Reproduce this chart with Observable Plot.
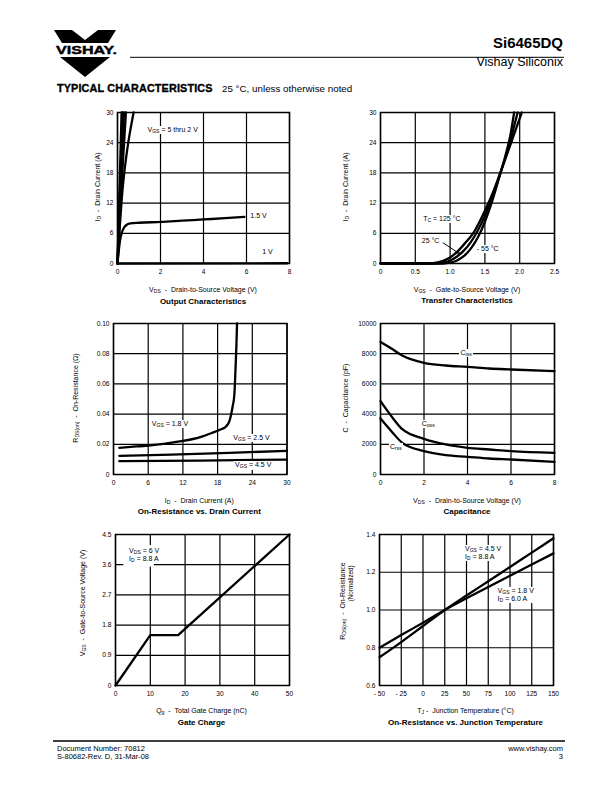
<!DOCTYPE html>
<html><head><meta charset="utf-8">
<script src="https://cdn.jsdelivr.net/npm/d3@7"></script>
<script src="https://cdn.jsdelivr.net/npm/@observablehq/plot@0.6"></script>
<style>
body{margin:0;background:#fff;}
#page{position:relative;width:612px;height:792px;overflow:hidden;font-family:"Liberation Sans",Arial,Helvetica,sans-serif;color:#000;background:#fff;}
.abs{position:absolute;white-space:nowrap;}
.ctr{transform:translate(-50%,-50%);}
.rot{transform:translate(-50%,-50%) rotate(-90deg);}
.lbl{font-size:7px;}
.ttl{font-size:8px;font-weight:bold;}
.note{position:absolute;white-space:nowrap;transform:translate(-1px,-50%);background:#fff;padding:0 1px;font-size:7px;line-height:1.15;}
sub{font-size:72%;vertical-align:-0.3em;line-height:0;}
</style></head><body><div id="page"></div>
<script>
// ================= DATA =================
// Panel 1: Output Characteristics (VDS in V, ID in A)
const outVgs5 = [[0,0],[0.19,30]];
const outVgs4 = [[0,0],[0.24,30]];
const outVgs3 = [[0,0],[0.30,30]];
const outVgs25 = [[0,0],[0.1,8.5],[0.2,16.5],[0.3,23.5],[0.39,30]];
const outVgs2 = [[0,0],[0.1,7],[0.2,13],[0.3,17.5],[0.4,21],[0.5,24],[0.6,26.6],[0.7,28.9],[0.75,30]];
const outVgs15 = [[0,0],[0.05,2.2],[0.12,4.6],[0.2,6.1],[0.3,7.1],[0.4,7.6],[0.6,7.95],[1,8.1],[2,8.25],[3,8.5],[4,8.75],[5,9.0],[5.9,9.25]];
const outVgs1 = [[0,0],[7.9,0.05]];
const outXTicks = [0,2,4,6,8];
const outYTicks = [0,6,12,18,24,30];
const outXLabels = ["0","2","4","6","8"];
const outYLabels = ["0","6","12","18","24","30"];

// Panel 2: Transfer Characteristics (VGS in V, ID in A)
const trTc125 = [[0,0],[0.72,0],[0.8,0.15],[0.9,0.55],[1.0,1.2],[1.1,2.3],[1.2,3.8],[1.34,6.2],[1.49,10.2],[1.63,14.6],[1.72,18],[1.82,21.8],[1.92,25.7],[2.03,30]];
const trTc25 = [[0,0],[0.8,0],[0.9,0.2],[1.0,0.6],[1.1,1.4],[1.2,2.6],[1.3,4.3],[1.4,6.6],[1.5,9.5],[1.6,13.0],[1.72,17.8],[1.82,22.2],[1.9,26.2],[1.97,30]];
const trTcM55 = [[0,0],[0.9,0],[1.0,0.15],[1.1,0.6],[1.2,1.5],[1.3,3.0],[1.4,5.2],[1.5,8.3],[1.6,12.2],[1.72,17.8],[1.8,21.7],[1.87,25.8],[1.92,30]];
const trXTicks = [0,0.5,1.0,1.5,2.0,2.5];
const trYTicks = [0,6,12,18,24,30];
const trXLabels = ["0","0.5","1.0","1.5","2.0","2.5"];
const trYLabels = ["0","6","12","18","24","30"];
const trArrow = [{x1:0.9,y1:4.1,x2:1.14,y2:1.9}];

// Panel 3: On-Resistance vs. Drain Current (ID in A, RDS(on) in ohm)
const rdsVgs18 = [[1,0.0177],[3,0.0183],[6,0.0192],[9,0.0205],[12,0.0222],[15,0.0248],[17,0.0275],[18.5,0.0298],[19.5,0.032],[20.1,0.036],[20.6,0.045],[20.9,0.053],[21.1,0.07],[21.25,0.085],[21.36,0.1]];
const rdsVgs25 = [[1,0.0124],[10,0.0132],[20,0.0143],[30,0.0157]];
const rdsVgs45 = [[1,0.0088],[15,0.0092],[30,0.0099]];
const rdsXTicks = [0,6,12,18,24,30];
const rdsYTicks = [0,0.02,0.04,0.06,0.08,0.10];
const rdsXLabels = ["0","6","12","18","24","30"];
const rdsYLabels = ["0","0.02","0.04","0.06","0.08","0.10"];

// Panel 4: Capacitance (VDS in V, C in pF)
const capCiss = [[0,8786],[0.5,8344],[1,7881],[2,7395],[3,7219],[4,7130],[5,7020],[6,6954],[8,6843]];
const capCoss = [[0,4857],[0.5,3863],[1,3000],[2,2362],[3,1987],[4,1766],[5,1656],[6,1545],[8,1435]];
const capCrss = [[0,3709],[0.5,2870],[1,2097],[2,1545],[3,1280],[4,1170],[5,1060],[6,993],[8,839]];
const capXTicks = [0,2,4,6,8];
const capYTicks = [0,2000,4000,6000,8000,10000];
const capXLabels = ["0","2","4","6","8"];
const capYLabels = ["0","2000","4000","6000","8000","10000"];

// Panel 5: Gate Charge (Qg in nC, VGS in V)
const gateCharge = [[0,0],[10,1.5],[18,1.5],[50,4.5]];
const gateXTicks = [0,10,20,30,40,50];
const gateYTicks = [0,0.9,1.8,2.7,3.6,4.5];
const gateXLabels = ["0","10","20","30","40","50"];
const gateYLabels = ["0","0.9","1.8","2.7","3.6","4.5"];
const gateNoteBox = [{x1:2.4,x2:11.2,y1:3.53,y2:4.17}];

// Panel 6: On-Resistance vs. Junction Temperature (TJ in °C, normalized RDS(on))
const tempVgs45 = [[-50,0.75],[-25,0.83],[0,0.915],[25,1.0],[50,1.077],[75,1.152],[100,1.228],[125,1.304],[150,1.38]];
const tempVgs18 = [[-50,0.80],[-25,0.867],[0,0.933],[25,1.0],[50,1.062],[75,1.122],[100,1.182],[125,1.241],[150,1.30]];
const tempXTicks = [-50,-25,0,25,50,75,100,125,150];
const tempYTicks = [0.6,0.8,1.0,1.2,1.4];
const tempXLabels = ["- 50","- 25","0","25","50","75","100","125","150"];
const tempYLabels = ["0.6","0.8","1.0","1.2","1.4"];

// ================= PAGE =================
const page = document.getElementById("page");
function place(html, left, top, cls) {
  const d = document.createElement("div");
  d.className = "abs " + cls;
  d.innerHTML = html;
  d.style.left = left + "px";
  d.style.top = top + "px";
  page.appendChild(d);
  return d;
}

// header graphics
const hdr = `<svg width="612" height="792" style="position:absolute;left:0;top:0" xmlns="http://www.w3.org/2000/svg">
 <polygon points="54,30 72,30 85,40 98,30 116,30 108,43 62,43" fill="#000"/>
 <text x="56" y="53.5" font-family="Liberation Sans, Arial" font-weight="bold" font-size="11" stroke="#000" stroke-width="0.4" textLength="61" lengthAdjust="spacingAndGlyphs">VISHAY.</text>
 <polygon points="60,57 110,57 85,77" fill="#000"/>
 <line x1="130" y1="57.3" x2="564" y2="57.3" stroke="#000" stroke-width="1"/>
 <line x1="53" y1="741" x2="565" y2="741" stroke="#000" stroke-width="1.5"/>
</svg>`;
page.insertAdjacentHTML("beforeend", hdr);
place("Si6465DQ", 563, 34, "").style.cssText += "font-size:15px;font-weight:bold;transform:translateX(-100%);";
place("Vishay Siliconix", 563, 54.5, "").style.cssText += "font-size:12.5px;transform:translateX(-100%);";
place("TYPICAL CHARACTERISTICS", 57, 82, "").style.cssText += "font-size:10.8px;font-weight:900;-webkit-text-stroke:0.35px #000;letter-spacing:0.15px;";
place("25 °C, unless otherwise noted", 222, 83, "").style.cssText += "font-size:9.8px;";
place("Document Number: 70812", 57, 744, "").style.cssText += "font-size:7.5px;";
place("S-80682-Rev. D, 31-Mar-08", 57, 752, "").style.cssText += "font-size:7.5px;";
place("www.vishay.com", 563, 744, "").style.cssText += "font-size:7.5px;transform:translateX(-100%);";
place("3", 563, 752, "").style.cssText += "font-size:7.5px;transform:translateX(-100%);";

const FONT = '"Liberation Sans", Arial, Helvetica, sans-serif';
const toPts = (arr) => arr.map(([x, y]) => ({x, y}));
const curve = (arr, extra = {}) => Plot.line(toPts(arr), {x: "x", y: "y", stroke: "#000", strokeWidth: 2.3, curve: "monotone-x", ...extra});

function makePanel(cfg) {
  const [fl, ft, fr, fb] = cfg.frame;
  const mL = 34, mR = 16, mT = 8, mB = 16;
  const W = fr - fl + mL + mR, H = fb - ft + mT + mB;
  const xMap = new Map(cfg.xTicks.map((t, i) => [t, cfg.xLabels[i]]));
  const yMap = new Map(cfg.yTicks.map((t, i) => [t, cfg.yLabels[i]]));
  const plot = Plot.plot({
    width: W, height: H,
    marginLeft: mL, marginRight: mR, marginTop: mT, marginBottom: mB,
    style: {fontFamily: FONT, fontSize: "6.6px", background: "transparent", color: "#000"},
    x: {domain: cfg.xDomain},
    y: {domain: cfg.yDomain},
    marks: [
      Plot.gridX(cfg.xTicks, {stroke: "#000", strokeOpacity: 1, strokeWidth: 1.2}),
      Plot.gridY(cfg.yTicks, {stroke: "#000", strokeOpacity: 1, strokeWidth: 1.2}),
      ...cfg.marks,
      Plot.frame({stroke: "#000", strokeWidth: 1.5}),
      Plot.axisX(cfg.xTicks, {tickSize: 0, tickPadding: 6, tickFormat: d => xMap.get(d), label: null, fontSize: 6.6}),
      Plot.axisY(cfg.yTicks, {tickSize: 0, tickPadding: 4, tickFormat: d => yMap.get(d), label: null, fontSize: 6.6})
    ]
  });
  const wrap = document.createElement("div");
  wrap.style.cssText = `position:absolute;left:${fl - mL}px;top:${ft - mT}px;width:${W}px;height:${H}px;`;
  wrap.appendChild(plot);
  page.appendChild(wrap);
  const sx = plot.scale("x"), sy = plot.scale("y");
  for (const n of cfg.notes) {
    const d = document.createElement("div");
    d.className = "note";
    d.innerHTML = n.html;
    d.style.left = (fl - mL + sx.apply(n.x)) + "px";
    d.style.top = (ft - mT + sy.apply(n.y)) + "px";
    if (n.bg === false) d.style.background = "transparent";
    page.appendChild(d);
  }
  const cx = (fl + fr) / 2;
  place(cfg.xLabel, cx, cfg.xLabelY, "lbl ctr");
  place(cfg.title, cx, cfg.titleY, "ttl ctr");
  place(cfg.yLabel, cfg.yLabelX, cfg.yLabelY ?? (ft + fb) / 2, "lbl rot");
}

// Panel 1
makePanel({
  frame: [117, 111.5, 289, 262.5],
  xDomain: [0, 8], yDomain: [0, 30],
  xTicks: outXTicks, yTicks: outYTicks, xLabels: outXLabels, yLabels: outYLabels,
  marks: [curve(outVgs5), curve(outVgs4), curve(outVgs3), curve(outVgs25), curve(outVgs2), curve(outVgs15), curve(outVgs1, {curve: "linear"})],
  notes: [
    {x: 1.42, y: 26.4, html: "V<sub>GS</sub> = 5 thru 2 V"},
    {x: 6.2, y: 9.3, html: "1.5 V"},
    {x: 6.75, y: 2.1, html: "1 V"}
  ],
  xLabel: "V<sub>DS</sub> &nbsp;- &nbsp;Drain-to-Source Voltage (V)", xLabelY: 289,
  title: "Output Characteristics", titleY: 301,
  yLabel: "I<sub>D</sub> &nbsp;- &nbsp;Drain Current (A)", yLabelX: 97
});

// Panel 2
makePanel({
  frame: [380, 111.5, 554, 262.5],
  xDomain: [0, 2.5], yDomain: [0, 30],
  xTicks: trXTicks, yTicks: trYTicks, xLabels: trXLabels, yLabels: trYLabels,
  marks: [curve(trTc125), curve(trTc25), curve(trTcM55),
    Plot.arrow(trArrow, {x1: "x1", y1: "y1", x2: "x2", y2: "y2", stroke: "#000", strokeWidth: 1, headLength: 4})],
  notes: [
    {x: 0.62, y: 8.6, html: "T<sub>C</sub> = 125 °C"},
    {x: 0.6, y: 4.2, html: "25 °C"},
    {x: 1.39, y: 2.65, html: "- 55 °C"}
  ],
  xLabel: "V<sub>GS</sub> &nbsp;- &nbsp;Gate-to-Source Voltage (V)", xLabelY: 288.5,
  title: "Transfer Characteristics", titleY: 300,
  yLabel: "I<sub>D</sub> &nbsp;- &nbsp;Drain Current (A)", yLabelX: 345
});

// Panel 3
makePanel({
  frame: [112.5, 322.5, 286, 473.5],
  xDomain: [0, 30], yDomain: [0, 0.1],
  xTicks: rdsXTicks, yTicks: rdsYTicks, xLabels: rdsXLabels, yLabels: rdsYLabels,
  marks: [curve(rdsVgs18), curve(rdsVgs25), curve(rdsVgs45)],
  notes: [
    {x: 6.8, y: 0.033, html: "V<sub>GS</sub> = 1.8 V"},
    {x: 20.9, y: 0.0236, html: "V<sub>GS</sub> = 2.5 V"},
    {x: 21.2, y: 0.0053, html: "V<sub>GS</sub> = 4.5 V"}
  ],
  xLabel: "I<sub>D</sub> &nbsp;- &nbsp;Drain Current (A)", xLabelY: 499.5,
  title: "On-Resistance vs. Drain Current", titleY: 510.5,
  yLabel: "R<sub>DS(on)</sub> &nbsp;- &nbsp;On-Resistance (Ω)", yLabelX: 75
});

// Panel 4
makePanel({
  frame: [380, 322.5, 554, 473.5],
  xDomain: [0, 8], yDomain: [0, 10000],
  xTicks: capXTicks, yTicks: capYTicks, xLabels: capXLabels, yLabels: capYLabels,
  marks: [curve(capCiss), curve(capCoss), curve(capCrss)],
  notes: [
    {x: 3.7, y: 7990, html: "C<sub>iss</sub>"},
    {x: 1.92, y: 3250, html: "C<sub>oss</sub>"},
    {x: 0.46, y: 1766, html: "C<sub>rss</sub>"}
  ],
  xLabel: "V<sub>DS</sub> &nbsp;- &nbsp;Drain-to-Source Voltage (V)", xLabelY: 499.5,
  title: "Capacitance", titleY: 510.5,
  yLabel: "C &nbsp;- &nbsp;Capacitance (pF)", yLabelX: 345
});

// Panel 5
makePanel({
  frame: [114.5, 534, 288.5, 685],
  xDomain: [0, 50], yDomain: [0, 4.5],
  xTicks: gateXTicks, yTicks: gateYTicks, xLabels: gateXLabels, yLabels: gateYLabels,
  marks: [Plot.rect(gateNoteBox, {x1: "x1", x2: "x2", y1: "y1", y2: "y2", fill: "#fff"}),
    Plot.line(toPts(gateCharge), {x: "x", y: "y", stroke: "#000", strokeWidth: 2.3})],
  notes: [
    {x: 4.2, y: 3.87, html: "V<sub>DS</sub> = 6 V<br>I<sub>D</sub> = 8.8 A", bg: false}
  ],
  xLabel: "Q<sub>g</sub> &nbsp;- &nbsp;Total Gate Charge (nC)", xLabelY: 709.5,
  title: "Gate Charge", titleY: 721.5,
  yLabel: "V<sub>GS</sub> &nbsp;- &nbsp;Gate-to-Source Voltage (V)", yLabelX: 81.7, yLabelY: 603
});

// Panel 6
makePanel({
  frame: [378.5, 534, 552.5, 685],
  xDomain: [-50, 150], yDomain: [0.6, 1.4],
  xTicks: tempXTicks, yTicks: tempYTicks, xLabels: tempXLabels, yLabels: tempYLabels,
  marks: [curve(tempVgs45), curve(tempVgs18)],
  notes: [
    {x: 49.4, y: 1.30, html: "V<sub>GS</sub> = 4.5 V<br>I<sub>D</sub> = 8.8 A"},
    {x: 86.9, y: 1.078, html: "V<sub>GS</sub> = 1.8 V<br>I<sub>D</sub> = 6.0 A"}
  ],
  xLabel: "T<sub>J</sub> - &nbsp;Junction Temperature (°C)", xLabelY: 709.5,
  title: "On-Resistance vs. Junction Temperature", titleY: 721.5,
  yLabel: "<div style='text-align:right;line-height:1.15'>R<sub>DS(on)</sub> &nbsp;- &nbsp;On-Resistance<br><span style='font-size:6.3px;padding-right:3px'>(Normalized)</span></div>", yLabelX: 347, yLabelY: 601
});
</script>
</body></html>
